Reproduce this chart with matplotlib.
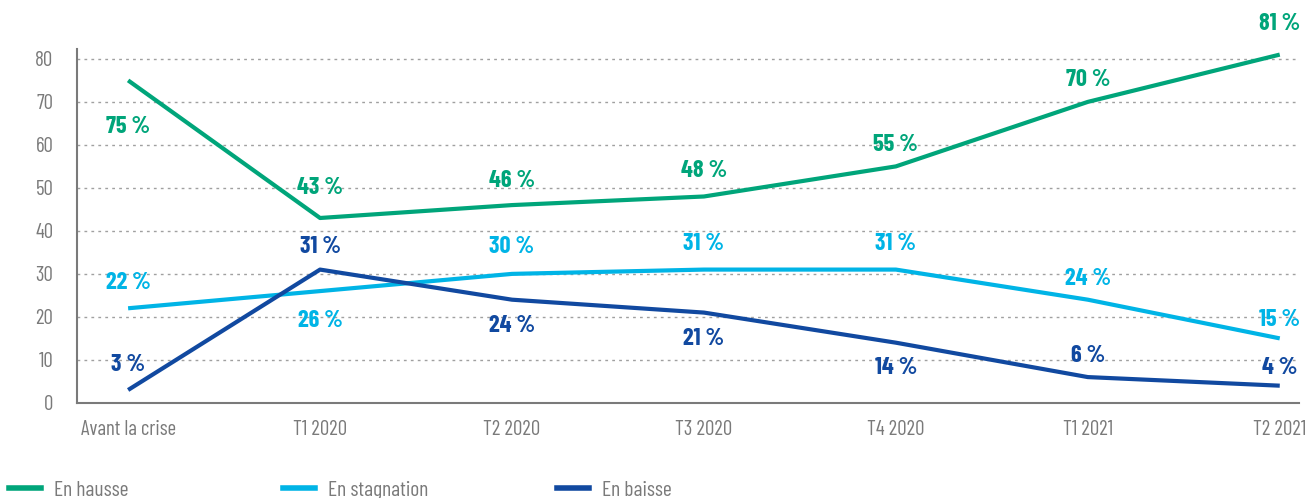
import matplotlib

matplotlib.use("Agg")

import matplotlib.pyplot as plt
from matplotlib.lines import Line2D

plt.rcParams["font.family"] = ["Barlow Condensed", "DejaVu Sans"]

periods = ["Avant la crise", "T1 2020", "T2 2020", "T3 2020", "T4 2020", "T1 2021", "T2 2021"]
en_hausse = [75, 43, 46, 48, 55, 70, 81]
en_stagnation = [22, 26, 30, 31, 31, 24, 15]
en_baisse = [3, 31, 24, 21, 14, 6, 4]

GREEN = "#00A57A"
CYAN = "#00B4E6"
NAVY = "#1149A0"
GREY = "#7a7a7a"

# vertical label offsets in pixels (positive = above the point)
offsets_hausse = [-47, 30, 24, 25, 21, 22, 31]
offsets_stagnation = [25, -30, 27, 26, 26, 21, 18]
offsets_baisse = [25, 23, -26, -26, -25, 21, 18]

fig = plt.figure(figsize=(13.06, 4.98), dpi=100)
ax = fig.add_axes([0.059, 0.191, 0.9356, 0.7106])

x = list(range(len(periods)))
series = [
    ("En hausse", en_hausse, GREEN, offsets_hausse),
    ("En stagnation", en_stagnation, CYAN, offsets_stagnation),
    ("En baisse", en_baisse, NAVY, offsets_baisse),
]

for name, values, color, offs in series:
    ax.plot(x, values, color=color, linewidth=3, solid_capstyle="butt", zorder=3)
    for xi, v, dy in zip(x, values, offs):
        ax.annotate(f"{v}\u2009%", (xi, v), xytext=(0, dy), textcoords="offset pixels",
                    ha="center", va="center", color=color, fontsize=17.5,
                    fontweight="bold", zorder=4)

ax.set_xlim(-0.266, 6.1)
ax.set_ylim(0, 82.3)
ax.set_yticks(range(0, 81, 10))
ax.set_xticks(x)
ax.set_xticklabels(periods)
ax.yaxis.grid(True, linestyle=(0, (2, 3)), color="#a0a0a0", linewidth=1)
ax.set_axisbelow(True)

for side in ("top", "right"):
    ax.spines[side].set_visible(False)
for side in ("left", "bottom"):
    ax.spines[side].set_color(GREY)
    ax.spines[side].set_linewidth(1.5)

ax.tick_params(axis="both", length=0, colors=GREY, labelsize=15)
ax.tick_params(axis="y", pad=17)
ax.tick_params(axis="x", pad=12)

# one legend per entry so the columns sit at fixed positions
for (name, values, color, offs), left in zip(series, (0.007, 0.2167, 0.4265)):
    handle = Line2D([], [], color=color, linewidth=4)
    fig.legend([handle], [name], loc="center left", bbox_to_anchor=(left, 0.016),
               frameon=False, handlelength=1.5, handletextpad=0.58,
               fontsize=15.5, labelcolor=GREY, borderpad=0, borderaxespad=0)

fig.savefig("out.png", dpi=100)
plt.close(fig)
